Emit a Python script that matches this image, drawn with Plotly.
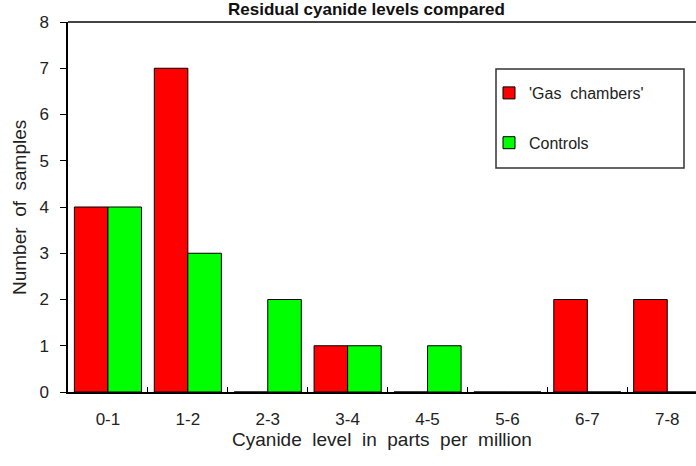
import plotly.graph_objects as go

categories = ["0-1", "1-2", "2-3", "3-4", "4-5", "5-6", "6-7", "7-8"]
gas_chambers = [4, 7, 0, 1, 0, 0, 2, 2]
controls = [4, 3, 2, 1, 1, 0, 0, 0]
y_ticks = [0, 1, 2, 3, 4, 5, 6, 7, 8]

FONT = "Liberation Sans, Arial, sans-serif"
TXT = "#222222"
L, T, B, W, H = 68, 22, 74, 696, 466
PW, PH = W - L, H - T - B

fig = go.Figure()
fig.add_trace(go.Bar(
    x=categories, y=gas_chambers, name="'Gas\u00a0\u00a0chambers'",
    marker=dict(color="#ff0000", line=dict(color="#000000", width=1)),
    legendgroup="g1",
))
fig.add_trace(go.Bar(
    x=categories, y=controls, name="Controls",
    marker=dict(color="#00ff00", line=dict(color="#000000", width=1)),
    legendgroup="g2",
))

fig.update_layout(
    width=W, height=H,
    margin=dict(l=L, r=0, t=T, b=B, autoexpand=False),
    paper_bgcolor="white", plot_bgcolor="white",
    barmode="group", bargap=0.16, bargroupgap=0,
    font=dict(family=FONT, color=TXT, size=16),
    showlegend=True,
    legend=dict(
        x=(489 - L) / PW, y=(H - B - 76) / PH, xanchor="left", yanchor="top",
        traceorder="grouped", tracegroupgap=26,
        font=dict(size=16, color=TXT, family=FONT),
        bgcolor="rgba(0,0,0,0)", borderwidth=0,
    ),
    shapes=[
        dict(type="line", xref="paper", yref="paper", x0=0, x1=1, y0=1, y1=1,
             line=dict(color="#444444", width=2)),
        dict(type="rect", xref="paper", yref="paper",
             x0=(496 - L) / PW, x1=(684 - L) / PW,
             y0=(H - B - 168) / PH, y1=(H - B - 69) / PH,
             line=dict(color="#333333", width=1.5)),
    ],
    annotations=[
        dict(text="<b>Residual cyanide levels compared</b>", xref="paper", yref="paper",
             x=(366 - L) / PW, y=1, xanchor="center", yanchor="bottom", yshift=1,
             showarrow=False, font=dict(size=17, color="#111111", family=FONT)),
        dict(text="Number\u00a0 of\u00a0 samples", xref="paper", yref="paper",
             x=(19 - L) / PW, y=(H - B - 208) / PH, xanchor="center", yanchor="middle",
             textangle=-90, showarrow=False,
             font=dict(size=19, color=TXT, family=FONT)),
    ],
)

fig.update_xaxes(
    type="category", range=[-0.5, 7.36], automargin=False,
    showline=True, linecolor="#000000", linewidth=1.5,
    ticks="inside", tickson="boundaries", ticklen=5, tickcolor="#000000",
    tickfont=dict(size=17, color=TXT), ticklabelstandoff=11,
    showgrid=False, zeroline=False,
    title=dict(text="Cyanide\u00a0 level\u00a0 in\u00a0 parts\u00a0 per\u00a0 million",
               font=dict(size=19, color=TXT), standoff=4),
)
fig.update_yaxes(
    range=[0, 8], tickvals=y_ticks, automargin=False,
    showline=True, linecolor="#000000", linewidth=1.5,
    ticks="outside", ticklen=6, tickcolor="#000000",
    tickfont=dict(size=17, color=TXT), ticklabelstandoff=8,
    showgrid=False, zeroline=False,
)

fig.write_html(
    "out.html",
    config={"displayModeBar": False},
    post_script="document.body.style.margin='0';document.body.style.overflow='hidden';",
)
